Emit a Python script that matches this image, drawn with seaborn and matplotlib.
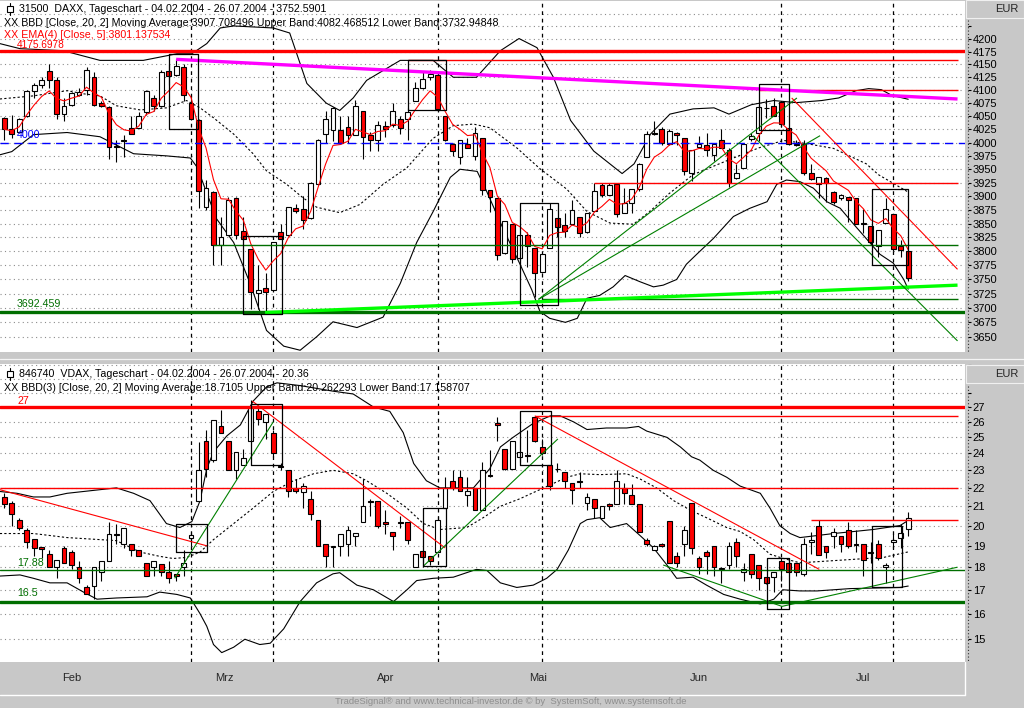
import numpy as np
import pandas as pd
import matplotlib
matplotlib.use("Agg")
import matplotlib.pyplot as plt
import seaborn as sns
from matplotlib.patches import Rectangle
from matplotlib.lines import Line2D
from matplotlib.ticker import FixedLocator, FixedFormatter, NullLocator

sns.set_style("white")
plt.rcParams["font.family"] = ["Liberation Sans", "DejaVu Sans"]

# ---- DAX daily candles, 04.02.2004 - 26.07.2004 (trading day index 0..121) ----
dax_open = [4046, 4025, 4020, 4050, 4099, 4110, 4138, 4120, 4055, 4072,
            4090, 4100, 4125, 4075, 4068, 3993, 4003, 4027, 4027, 4058,
            4085, 4070, 4138, 4130, 4145, 4075, 4043, 3880, 3907, 3812,
            3830, 3896, 3837, 3805, 3726, 3735, 3731, 3835, 3830, 3879,
            3876, 3860, 3922, 4017, 4023, 4023, 4030, 4015, 4060, 4015,
            4005, 4032, 4033, 4045, 4045, 4080, 4104, 4125, 4130, 4050,
            3998, 3973, 3998, 3975, 4008, 3912, 3897, 3797, 3849, 3788,
            3830, 3806, 3763, 3806, 3861, 3847, 3849, 3863, 3835, 3873,
            3920, 3902, 3922, 3870, 3888, 3913, 3973, 4018, 4025, 3998,
            4018, 4008, 3943, 3992, 3996, 3977, 4005, 3986, 3933, 3953,
            4007, 4018, 4065, 4070, 4078, 4028, 3998, 3998, 3943, 3922,
            3933, 3907, 3897, 3898, 3897, 3851, 3845, 3810, 3852, 3867,
            3809, 3800]
dax_high = [4048, 4053, 4047, 4100, 4114, 4125, 4150, 4125, 4085, 4097,
            4105, 4145, 4135, 4080, 4070, 4005, 4015, 4050, 4058, 4100,
            4090, 4140, 4150, 4160, 4150, 4090, 4045, 3930, 3910, 3862,
            3898, 3898, 3862, 3805, 3775, 3762, 3816, 3850, 3881, 3885,
            3900, 3927, 4007, 4060, 4068, 4050, 4050, 4082, 4060, 4020,
            4040, 4040, 4075, 4050, 4065, 4115, 4135, 4140, 4135, 4050,
            4000, 4005, 4008, 4030, 4008, 3912, 3897, 3855, 3849, 3830,
            3835, 3806, 3796, 3887, 3861, 3870, 3893, 3863, 3870, 3925,
            3925, 3925, 3922, 3915, 3913, 3962, 4022, 4040, 4030, 4025,
            4020, 4008, 3986, 4013, 4018, 4000, 4025, 3990, 3960, 3998,
            4018, 4072, 4083, 4085, 4080, 4028, 4005, 4005, 3960, 3935,
            3935, 3910, 3904, 3898, 3897, 3877, 3845, 3838, 3897, 3867,
            3820, 3800]
dax_low = [4005, 4008, 4018, 4048, 4085, 4105, 4105, 4045, 4040, 4070,
           4088, 4090, 4070, 4068, 3970, 3963, 3973, 4017, 4027, 4052,
           4060, 4068, 4110, 4128, 4080, 4043, 3878, 3875, 3775, 3775,
           3830, 3822, 3820, 3698, 3698, 3692, 3731, 3822, 3828, 3870,
           3840, 3858, 3920, 4000, 4003, 4000, 4000, 4015, 3970, 3985,
           3985, 4010, 4030, 4017, 4005, 4080, 4102, 4120, 4060, 4003,
           3975, 3960, 3990, 3968, 3902, 3871, 3785, 3795, 3780, 3785,
           3772, 3720, 3761, 3806, 3825, 3825, 3848, 3825, 3833, 3873,
           3898, 3902, 3862, 3870, 3870, 3910, 3972, 4015, 3995, 3996,
           3995, 3940, 3928, 3992, 3975, 3965, 3990, 3918, 3932, 3952,
           4003, 4003, 4047, 4050, 4030, 3995, 3993, 3940, 3930, 3897,
           3889, 3886, 3893, 3853, 3850, 3833, 3813, 3790, 3852, 3800,
           3790, 3748]
dax_close = [4025, 4017, 4045, 4098, 4110, 4120, 4120, 4055, 4070, 4095,
             4097, 4140, 4072, 4070, 3991, 3992, 4005, 4017, 4050, 4098,
             4070, 4135, 4127, 4147, 4090, 4045, 3910, 3915, 3812, 3825,
             3893, 3830, 3822, 3728, 3731, 3728, 3816, 3822, 3881, 3873,
             3856, 3925, 4005, 4045, 4065, 4000, 4015, 4070, 4010, 4005,
             4033, 4025, 4060, 4027, 4058, 4104, 4122, 4132, 4063, 4005,
             3985, 4005, 3990, 4018, 3912, 3899, 3793, 3855, 3786, 3830,
             3809, 3761, 3796, 3877, 3844, 3836, 3874, 3833, 3870, 3910,
             3902, 3920, 3868, 3888, 3913, 3960, 4017, 4017, 4000, 4022,
             4015, 3947, 3986, 3998, 3986, 3998, 3990, 3925, 3943, 3998,
             4013, 4068, 4066, 4050, 4036, 3998, 3995, 3943, 3931, 3935,
             3924, 3890, 3902, 3894, 3850, 3850, 3816, 3838, 3877, 3805,
             3802, 3752.59]

# ---- DAX Bollinger band (20, 2) ----
dax_upper_day = [-0.6, 2.1, 7.9, 12.8, 18.6, 23.1, 25.1, 27.1, 28.9, 30.7, 36.0,
                 38.2, 40.5, 43.1, 44.9, 46.7, 48.5, 53.0, 57.4, 60.1, 63.2, 66.4,
                 68.9, 71.3, 73.5, 75.8, 78.9, 82.7, 84.3, 86.5, 89.1, 92.2, 95.0,
                 97.0, 100.0, 103.0, 106.0, 109.4, 111.7, 114.0, 115.7, 117.4, 118.8, 121.0]
dax_upper = [4191, 4181, 4177, 4158, 4158, 4171, 4171, 4191, 4222, 4226, 4222,
             4212, 4113, 4075, 4061, 4085, 4119, 4158, 4158, 4125, 4125, 4177,
             4201, 4183, 4125, 4042, 3984, 3942, 3960, 4016, 4054, 4064, 4066,
             4054, 4072, 4080, 4076, 4080, 4085, 4099, 4103, 4101, 4090, 4082.47]
dax_mid_day = [-0.6, 3.9, 8.4, 10.6, 12.8, 15.0, 18.2, 21.7, 24.4, 26.2, 28.0,
               30.7, 33.3, 35.1, 37.8, 40.0, 41.8, 44.9, 47.6, 50.7, 53.9, 57.4,
               60.1, 62.8, 65.0, 68.6, 71.7, 75.3, 78.0, 81.1, 84.2, 86.4, 89.0,
               92.2, 97.6, 101.0, 104.3, 107.4, 111.0, 115.4, 117.0, 121.0]
dax_mid = [4083, 4089, 4099, 4093, 4089, 4070, 4062, 4066, 4080, 4066, 4047,
           4016, 3979, 3947, 3922, 3897, 3880, 3870, 3885, 3922, 3953, 4008,
           4032, 4035, 4028, 3990, 3951, 3913, 3872, 3851, 3849, 3872, 3905,
           3940, 3971, 3990, 4004, 3998, 3989, 3960, 3940, 3907.71]
dax_lower_day = [-0.6, 1.0, 3.9, 8.4, 12.8, 17.3, 21.7, 24.9, 25.8, 28.4, 30.7,
                 32.9, 35.1, 37.4, 39.6, 41.8, 44.0, 47.2, 50.7, 53.0, 55.2, 57.4,
                 59.7, 61.0, 63.3, 64.6, 66.8, 69.0, 70.6, 71.7, 73.0, 75.1, 76.7,
                 78.0, 79.7, 81.5, 83.1, 85.1, 86.9, 88.2, 90.0, 91.3, 92.7, 94.9,
                 97.6, 99.8, 102.1, 103.4, 104.7, 106.5, 108.3, 110.1, 111.9, 113.7,
                 115.9, 117.2, 119.0, 120.4, 121.0]
dax_lower = [3977, 3983, 4015, 4019, 4011, 3979, 3975, 3971, 3954, 3859, 3816,
             3743, 3661, 3634, 3627, 3650, 3676, 3666, 3684, 3743, 3816, 3872,
             3935, 3950, 3946, 3908, 3840, 3778, 3732, 3694, 3682, 3675, 3682,
             3717, 3722, 3737, 3757, 3746, 3737, 3740, 3750, 3777, 3795, 3823,
             3863, 3878, 3890, 3922, 3930, 3927, 3915, 3890, 3878, 3849,
             3815, 3795, 3779, 3750, 3732.95]

# ---- VDAX daily candles ----
vdax_open = [21.5, 21.2, 20.3, 19.8, 19.35, 18.95, 18.6, 18.0, 18.9, 18.7,
             18.0, 17.1, 17.15, 17.8, 18.3, 19.6, 19.1, 19.1, 18.8, 18.2,
             18.0, 18.15, 17.8, 17.7, 18.0, 19.4, 21.3, 24.8, 23.6, 25.7,
             24.8, 23.0, 23.3, 24.8, 26.7, 26.0, 25.3, 23.25, 23.0, 22.0,
             21.75, 21.4, 20.3, 19.1, 18.95, 19.0, 19.1, 19.5, 20.2, 21.3,
             21.3, 20.2, 19.7, 20.2, 20.2, 18.0, 18.75, 18.5, 18.7, 20.9,
             22.4, 22.6, 21.6, 22.0, 20.8, 22.75, 25.9, 24.3, 23.1, 23.8,
             23.9, 26.3, 24.4, 23.3, 23.1, 22.9, 22.3, 22.4, 21.2, 21.4,
             20.4, 21.1, 21.1, 22.0, 21.6, 21.1, 19.3, 18.8, 19.1, 20.25,
             18.5, 19.1, 21.2, 18.4, 18.7, 19.0, 17.95, 18.1, 19.2, 17.8,
             18.6, 18.1, 17.55, 17.55, 18.3, 18.2, 18.2, 17.7, 19.2, 20.0,
             19.0, 19.5, 19.5, 19.8, 19.1, 19.1, 18.7, 19.1, 18.0, 19.2,
             19.4, 19.85]
vdax_high = [21.7, 21.3, 20.4, 19.9, 19.35, 18.95, 18.8, 18.35, 19.0, 18.8,
             18.3, 17.2, 18.0, 18.3, 20.2, 20.1, 19.9, 19.1, 18.8, 18.2,
             18.3, 18.15, 18.3, 17.7, 18.8, 19.7, 24.7, 25.5, 26.1, 26.8,
             24.8, 24.1, 24.3, 27.5, 26.9, 26.5, 25.5, 23.4, 23.0, 22.5,
             22.3, 21.8, 20.3, 19.1, 19.0, 19.6, 20.0, 19.65, 22.5, 21.4,
             21.3, 20.8, 19.7, 20.5, 20.2, 18.6, 18.75, 18.5, 20.5, 22.6,
             23.0, 23.0, 22.6, 22.0, 23.5, 24.2, 26.3, 24.3, 24.8, 24.1,
             25.5, 26.4, 24.9, 23.3, 23.4, 22.9, 22.3, 22.9, 21.7, 21.4,
             21.0, 21.2, 23.0, 22.3, 22.2, 21.1, 19.4, 19.05, 19.15, 20.25,
             18.7, 20.0, 21.2, 18.5, 18.8, 19.0, 18.0, 19.2, 19.4, 18.2,
             18.6, 18.1, 17.55, 17.8, 18.4, 18.4, 18.2, 19.4, 19.7, 20.3,
             19.0, 19.9, 19.5, 20.2, 19.8, 19.1, 19.2, 19.3, 18.2, 19.6,
             20.1, 20.7]
vdax_low = [20.9, 20.0, 19.8, 18.9, 18.5, 18.4, 18.0, 17.5, 18.2, 17.9,
            17.3, 16.8, 16.6, 17.4, 18.3, 19.1, 18.9, 18.5, 18.5, 17.6,
            17.6, 17.6, 17.3, 17.4, 17.6, 19.0, 21.3, 22.6, 23.5, 25.3,
            23.0, 22.5, 23.3, 24.8, 25.8, 24.9, 23.8, 23.0, 21.5, 21.7,
            20.9, 20.3, 19.0, 18.0, 18.0, 18.5, 18.5, 19.0, 20.2, 20.5,
            19.9, 19.6, 18.8, 19.9, 19.1, 18.0, 18.0, 18.1, 18.7, 20.9,
            21.9, 21.8, 21.0, 20.8, 20.8, 22.6, 24.8, 23.0, 23.1, 23.5,
            23.5, 24.7, 23.9, 21.9, 22.9, 22.0, 21.1, 22.0, 20.8, 20.4,
            20.4, 20.8, 21.1, 21.1, 21.1, 19.7, 19.0, 18.8, 18.95, 18.2,
            18.0, 18.5, 18.6, 17.7, 17.7, 17.6, 17.3, 17.9, 18.0, 17.4,
            17.5, 17.0, 17.25, 16.9, 17.4, 17.8, 17.6, 17.6, 18.6, 18.55,
            18.4, 18.9, 18.7, 18.9, 18.7, 17.6, 18.2, 18.35, 17.3, 18.9,
            18.9, 19.5]
vdax_close = [21.1, 20.6, 19.9, 19.2, 18.9, 18.85, 18.0, 18.35, 18.2, 18.1,
              17.5, 16.8, 18.0, 18.3, 19.6, 19.55, 19.9, 18.8, 18.5, 17.6,
              18.3, 17.8, 17.5, 17.6, 18.2, 19.55, 23.0, 23.1, 26.1, 25.3,
              23.0, 24.1, 23.7, 27.0, 26.2, 26.5, 24.0, 23.2, 21.8, 21.8,
              22.1, 20.6, 19.0, 18.5, 19.0, 19.6, 19.8, 19.65, 21.0, 21.25,
              20.0, 20.1, 19.5, 20.15, 19.3, 18.6, 18.45, 18.3, 20.3, 22.0,
              22.0, 21.8, 21.8, 20.8, 23.0, 22.7, 25.8, 23.1, 24.8, 24.1,
              23.85, 24.8, 24.0, 22.1, 23.05, 22.4, 21.9, 22.35, 21.5, 20.9,
              21.0, 21.0, 22.4, 21.7, 21.1, 19.7, 19.1, 19.0, 19.0, 18.2,
              18.2, 19.8, 18.9, 18.0, 18.5, 18.0, 17.9, 19.0, 18.5, 17.9,
              17.7, 17.5, 17.3, 17.8, 17.9, 17.8, 17.8, 19.1, 19.3, 18.55,
              18.7, 19.7, 19.1, 19.0, 19.05, 18.35, 18.65, 18.4, 18.1, 19.3,
              19.65, 20.36]

# ---- VDAX Bollinger band (20, 2) ----
vdax_upper_day = [-0.6, 1.7, 3.9, 6.1, 8.4, 12.8, 15.0, 17.3, 19.5, 21.7,
                  23.5, 25.1, 26.2, 27.1, 28.0, 29.8, 31.6, 33.3, 35.1, 36.5,
                  39.6, 44.0, 46.7, 49.4, 51.6, 53.4, 54.8, 56.5, 58.3, 60.1,
                  62.8, 65.0, 66.4, 68.1, 70.8, 73.1, 74.4, 76.2, 78.0, 80.6,
                  83.3, 84.9, 86.0, 88.7, 90.5, 92.0, 93.1, 94.9, 96.7, 98.5,
                  101.2, 102.5, 103.8, 105.2, 106.5, 108.8, 111.0, 113.7, 116.3, 119.9, 121.0]
vdax_upper = [21.8, 21.7, 21.5, 21.5, 21.7, 21.9, 22.0, 21.7, 21.3, 20.1,
              19.9, 20.2, 21.3, 23.1, 24.1, 25.1, 25.8, 27.4, 28.4, 28.7,
              28.5, 28.1, 27.9, 27.0, 26.7, 25.3, 23.4, 22.4, 22.0, 22.0,
              22.0, 23.1, 24.4, 25.0, 25.9, 26.4, 26.4, 26.0, 25.5, 25.6,
              25.6, 25.7, 25.4, 25.0, 24.4, 23.8, 23.6, 23.0, 22.6, 22.1,
              21.7, 20.9, 20.0, 19.6, 19.4, 19.5, 19.6, 19.7, 19.8, 20.0, 20.26]
vdax_mid_day = [-0.6, 3.9, 8.4, 12.8, 15.0, 18.2, 20.8, 22.6, 24.4, 26.2,
                28.0, 30.7, 33.3, 36.0, 38.7, 41.4, 44.0, 46.7, 48.5, 51.2,
                53.9, 56.1, 58.3, 61.9, 64.1, 66.4, 69.0, 72.2, 75.3, 77.1,
                79.7, 83.3, 85.1, 87.3, 89.6, 91.8, 94.0, 96.7, 98.5, 100.3,
                102.5, 104.3, 106.5, 111.0, 115.4, 117.7, 121.0]
vdax_mid = [19.6, 19.6, 19.4, 19.3, 19.25, 18.7, 18.5, 18.4, 18.45, 18.7,
            19.3, 20.1, 20.9, 21.8, 22.4, 22.8, 23.0, 22.8, 22.4, 21.7,
            20.9, 20.1, 19.8, 19.9, 20.4, 21.0, 21.4, 22.0, 22.6, 22.8,
            22.75, 22.8, 22.5, 22.0, 21.3, 20.8, 20.4, 19.9, 19.7, 19.3,
            18.6, 18.4, 18.2, 18.3, 18.4, 18.45, 18.71]
vdax_lower_day = [-0.6, 2.1, 3.9, 6.1, 8.4, 10.6, 12.4, 15.0, 19.1, 20.8,
                  23.1, 24.9, 26.2, 27.1, 28.0, 29.1, 30.7, 32.2, 34.2, 35.6,
                  37.4, 39.6, 41.8, 44.0, 44.9, 47.2, 49.4, 52.1, 53.9, 55.2,
                  57.4, 60.1, 63.2, 64.6, 66.4, 68.6, 70.8, 72.6, 74.0, 75.5,
                  77.1, 78.0, 79.7, 81.1, 83.3, 85.1, 86.9, 88.7, 90.0, 92.2,
                  94.0, 96.3, 98.5, 101.2, 103.0, 104.2, 106.5, 108.8, 113.2, 119.9, 121.0]
vdax_lower = [17.6, 17.65, 17.5, 17.3, 17.3, 16.9, 16.6, 16.65, 16.7, 16.9,
              16.8, 16.65, 16.0, 15.5, 14.8, 14.5, 14.7, 15.0, 14.8, 14.85,
              15.4, 16.5, 17.3, 17.7, 17.75, 17.2, 17.0, 16.5, 17.0, 17.4,
              17.5, 17.55, 17.9, 17.85, 17.3, 17.1, 17.2, 17.5, 17.9, 18.8,
              20.1, 20.3, 20.4, 19.9, 20.1, 19.5, 18.9, 18.1, 17.5, 17.55,
              17.2, 16.8, 16.6, 16.4, 16.6, 17.0, 16.95, 16.95, 17.05, 17.1, 17.16]

# ---- axis labels ----
months = ["Feb", "Mrz", "Apr", "Mai", "Jun", "Jul"]
month_start = [0, 18, 41, 61, 82, 104, 126]   # trading day index of 1st of month
event_days = [25, 36, 58, 72, 104, 119]
dax_ticks = [3650, 3675, 3700, 3725, 3750, 3775, 3800, 3825, 3850, 3875, 3900, 3925,
             3950, 3975, 4000, 4025, 4050, 4075, 4100, 4125, 4150, 4175, 4200, 4225, 4250]
vdax_ticks = [15, 16, 17, 18, 19, 20, 21, 22, 23, 24, 25, 26, 27, 28, 29, 30]

# ---- drawn analysis: levels, trend lines and boxes (day, value) ----
dax_resistance = 4175.6978
dax_round = 4000
dax_support = 3692.459
dax_red_levels = [(4158, 54, 127.6), (4100, 101, 127.6), (3925, 79, 127.6)]
dax_green_levels = [(3812, 28, 127.6), (3715, 72, 127.6)]
dax_magenta = [(23.0, 4160), (127.6, 4083)]
dax_lime = [(34.9, 3692), (127.6, 3740)]
dax_green_trends = [[(71.5, 3715), (106.1, 4085)], [(71.5, 3715), (109.2, 4013)],
                    [(100.2, 4013), (127.6, 3643)]]
dax_red_trends = [[(105.4, 4085), (127.6, 3768)]]
dax_boxes = [(22.1, 25.9, 4025, 4171), (54.0, 59.1, 4061, 4158), (101.0, 105.0, 4023, 4111),
             (32.0, 37.2, 3690, 3828), (69.0, 74.1, 3705, 3888), (116.2, 121.0, 3775, 3913)]

vdax_top = 27
vdax_red_levels = [(26.4, 71, 127.6), (22.0, -0.6, 127.6), (20.3, 108, 127.6)]
vdax_mid_level = 17.88
vdax_floor = 16.5
vdax_red_trends = [[(-0.6, 21.9), (27.1, 19.0)], [(33.2, 27.4), (59.0, 18.9)],
                   [(71.0, 26.4), (109.1, 17.9)]]
vdax_green_trends = [[(22.8, 17.5), (36.0, 26.0)], [(56.1, 18.05), (74.1, 24.9)],
                     [(88.2, 18.1), (104.1, 16.3)], [(104.1, 16.3), (127.6, 18.0)]]
vdax_boxes = [(23.0, 27.1, 18.7, 20.1), (33.0, 37.2, 23.3, 27.2), (56.1, 59.1, 18.05, 20.9),
              (69.0, 73.2, 23.3, 26.7), (102.1, 105.0, 16.2, 18.4), (116.2, 120.2, 17.1, 20.0)]

W, H = 1024, 708
GRAY = "#c8c8c8"
RED = "#ff0000"
DKGREEN = "#006e00"
GREEN = "#008000"
DAYS = np.arange(len(dax_close))
TXT = 7.7


def fx(x):
    return x / W


def fy(y):
    return 1 - y / H


def draw_candles(ax, o, h, l, c):
    o, h, l, c = map(np.asarray, (o, h, l, c))
    up = c >= o
    body = np.abs(c - o)
    ax.vlines(DAYS, l, h, color="black", lw=0.8, zorder=3)
    ax.bar(DAYS[up], body[up], bottom=o[up], width=0.64, color="white",
           edgecolor="black", linewidth=0.8, zorder=3.5)
    ax.bar(DAYS[~up], body[~up], bottom=c[~up], width=0.64, color=RED,
           edgecolor="black", linewidth=0.8, zorder=3.5)


def draw_band(ax, days, vals, dashed=False):
    sns.lineplot(x=days, y=vals, ax=ax, color="black", linewidth=0.8,
                 linestyle=(0, (2, 2)) if dashed else "-", estimator=None,
                 sort=False, legend=False, zorder=2)


def draw_seg(ax, pts, color, lw, z=4.5):
    ax.plot([p[0] for p in pts], [p[1] for p in pts], color=color, lw=lw,
            solid_capstyle="butt", zorder=z)


def draw_box(ax, b):
    d0, d1, lo, hi = b
    ax.plot([d0, d1, d1, d0, d0], [lo, lo, hi, hi, lo], color="black", lw=0.9, zorder=5)


def style_axis(ax, ticks, hidden, ylim):
    ax.set_yscale("log")
    ax.set_ylim(*ylim)
    ax.set_xlim(-0.58, 128.6)
    ax.yaxis.set_major_locator(FixedLocator(ticks))
    ax.yaxis.set_major_formatter(FixedFormatter(
        ["" if t in hidden else f"{t:g}" for t in ticks]))
    ax.yaxis.set_minor_locator(NullLocator())
    ax.yaxis.tick_right()
    ax.spines["right"].set_position(("outward", 2.2))
    ax.tick_params(axis="y", which="major", direction="out", length=2.2, width=0.8,
                   pad=1.2, labelsize=8, colors="black")
    for s in ax.spines.values():
        s.set_visible(False)
    ax.grid(axis="y", which="major", linestyle=(0, (1, 3)), color="#8c8c8c", lw=0.8)
    ax.set_axisbelow(True)
    ax.set_xlabel("")
    ax.set_ylabel("")
    for d in event_days:
        ax.axvline(d, color="black", lw=0.9, ls=(0, (3, 3)), zorder=1.5)


fig = plt.figure(figsize=(W / 100, H / 100), dpi=100, facecolor=GRAY)
ax1 = fig.add_axes([0, fy(352), fx(965), 351 / H], facecolor="white")
ax2 = fig.add_axes([0, fy(662), fx(965), (662 - 364) / H], facecolor="white")

# ---------------- DAX panel ----------------
draw_band(ax1, dax_upper_day, dax_upper)
draw_band(ax1, dax_mid_day, dax_mid, dashed=True)
draw_band(ax1, dax_lower_day, dax_lower)
draw_candles(ax1, dax_open, dax_high, dax_low, dax_close)
ema = pd.Series(dax_close).ewm(span=5, adjust=False).mean()
sns.lineplot(x=DAYS, y=ema.values, ax=ax1, color=RED, linewidth=0.8,
             estimator=None, legend=False, zorder=4)

ax1.axhline(dax_resistance, color=RED, lw=2.4, zorder=4.5)
ax1.axhline(dax_round, color="#0000ff", lw=1.0, ls=(0, (6, 4)), zorder=4.5)
ax1.axhline(dax_support, color=DKGREEN, lw=2.4, zorder=4.5)
for v, d0, d1 in dax_red_levels:
    draw_seg(ax1, [(d0, v), (d1, v)], RED, 1.0)
for v, d0, d1 in dax_green_levels:
    draw_seg(ax1, [(d0, v), (d1, v)], DKGREEN, 1.0)
draw_seg(ax1, dax_magenta, "#ff00ff", 2.4)
draw_seg(ax1, dax_lime, "#00ff00", 2.4)
for seg in dax_green_trends:
    draw_seg(ax1, seg, GREEN, 0.8)
for seg in dax_red_trends:
    draw_seg(ax1, seg, RED, 0.8)
for b in dax_boxes:
    draw_box(ax1, b)
style_axis(ax1, dax_ticks, {4225, 4250}, (3624, 4276))
ax1.set_xticks([])

# ---------------- VDAX panel ----------------
draw_band(ax2, vdax_upper_day, vdax_upper)
draw_band(ax2, vdax_mid_day, vdax_mid, dashed=True)
draw_band(ax2, vdax_lower_day, vdax_lower)
draw_candles(ax2, vdax_open, vdax_high, vdax_low, vdax_close)

ax2.axhline(vdax_top, color=RED, lw=2.4, zorder=4.5)
ax2.axhline(vdax_mid_level, color=DKGREEN, lw=1.0, zorder=4.5)
ax2.axhline(vdax_floor, color=DKGREEN, lw=2.4, zorder=4.5)
for v, d0, d1 in vdax_red_levels:
    draw_seg(ax2, [(d0, v), (d1, v)], RED, 1.0)
for seg in vdax_red_trends:
    draw_seg(ax2, seg, RED, 0.8)
for seg in vdax_green_trends:
    draw_seg(ax2, seg, GREEN, 0.8)
for b in vdax_boxes:
    draw_box(ax2, b)
style_axis(ax2, vdax_ticks, {28, 29, 30}, (14.16, 30.1))

centers = [(a + b) / 2 for a, b in zip(month_start[:-1], month_start[1:])]
ax2.set_xticks(month_start[1:-1], labels=[""] * (len(month_start) - 2))
ax2.set_xticks(centers, labels=months, minor=True)
ax2.spines["bottom"].set_position(("outward", 2.2))
ax2.tick_params(axis="x", which="major", direction="out", length=3, width=0.8,
                color="black")
ax2.tick_params(axis="x", which="minor", length=0, pad=6, labelsize=8)

# ---------------- frame decorations ----------------
for y0, y1 in [(20, 352), (386, 662)]:
    fig.add_artist(Line2D([fx(968), fx(968)], [fy(y0), fy(y1)], color="#303030",
                          lw=0.8, ls=(0, (1, 2)), transform=fig.transFigure))
for y0 in [0, 365]:
    fig.add_artist(Rectangle((fx(966), fy(y0 + 18)), fx(58), 18 / H, facecolor=GRAY,
                             edgecolor="#f0f0f0", lw=0.8, transform=fig.transFigure, zorder=10))
    fig.text(fx(1019), fy(y0 + 9), "EUR", ha="right", va="center", fontsize=8, zorder=11)
fig.add_artist(Line2D([0, 1], [fy(359), fy(359)], color="#f4f4f4", lw=0.9,
                      transform=fig.transFigure))
fig.add_artist(Line2D([0, fx(965)], [fy(695), fy(695)], color="white", lw=1.0,
                      transform=fig.transFigure))
fig.add_artist(Line2D([fx(965), fx(965)], [fy(662), fy(695)], color="white", lw=1.0,
                      transform=fig.transFigure))


def icon(x, y):
    fig.add_artist(Line2D([fx(x + 3), fx(x + 3)], [fy(y - 6), fy(y + 6)], color="black",
                          lw=0.8, transform=fig.transFigure, zorder=11))
    fig.add_artist(Rectangle((fx(x), fy(y + 3)), 6 / W, 6 / H, facecolor="white",
                             edgecolor="black", lw=0.8, transform=fig.transFigure, zorder=12))


def label(x, y, s, color="black", size=TXT):
    fig.text(fx(x), fy(y), s, ha="left", va="center", fontsize=size, color=color, zorder=11)


icon(7, 9)
label(19, 9, "31500  DAXX, Tageschart - 04.02.2004 - 26.07.2004 - 3752.5901")
label(4, 23, "XX BBD [Close, 20, 2] Moving Average:3907.708496 Upper Band:4082.468512 "
             "Lower Band:3732.94848")
label(4, 35.5, "XX EMA(4) [Close, 5]:3801.137534", RED)
label(17, 45, "4175.6978", RED, 7.3)
label(17, 135, "4000", "#0000ff")
label(17, 304, "3692.459", DKGREEN)

icon(7, 374)
label(19, 374, "846740  VDAX, Tageschart - 04.02.2004 - 26.07.2004 - 20.36")
label(4, 388, "XX BBD(3) [Close, 20, 2] Moving Average:18.7105 Upper Band:20.262293 "
              "Lower Band:17.158707")
label(17, 401, "27", RED)
label(17, 563, "17.88", DKGREEN)
label(17, 593, "16.5", DKGREEN)

fig.text(fx(511), fy(701), "TradeSignal® and www.technical-investor.de © by  SystemSoft, "
         "www.systemsoft.de", ha="center", va="center", fontsize=6.8, color="#8e8e8e")

fig.savefig("out.png", dpi=100, facecolor=GRAY)
